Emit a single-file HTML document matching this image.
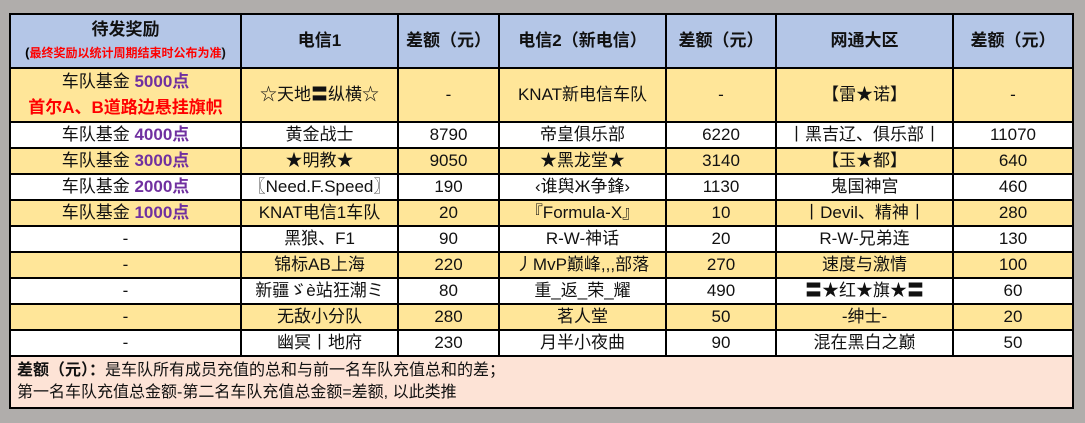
<!DOCTYPE html>
<html><head><meta charset="utf-8"><style>
body{margin:0;width:1085px;height:423px;background:#b0adab;overflow:hidden;font-family:"Liberation Sans","Noto Sans CJK SC",sans-serif}
table{position:absolute;left:9px;top:13px;border-collapse:collapse;table-layout:fixed;width:1063px;border:2px solid #000}
td{border:2px solid #000;text-align:center;vertical-align:middle;font-size:17px;padding:0;white-space:nowrap;overflow:hidden;color:#111;line-height:20px}
tr.h td{background:#b4c6e7;font-weight:bold;height:52px;font-size:17px}
tr.y td{background:#ffe699}
tr.w td{background:#fff}
tr.r td{height:24px}
.p{color:#7030a0;font-weight:bold}
.red{color:#ff0000;font-weight:bold}
tr.f td{background:#fde3d6;text-align:left;height:50px;font-size:16px;line-height:22px;padding-left:6px}
</style></head><body>
<table>
<colgroup><col style="width:231px"><col style="width:157px"><col style="width:101px"><col style="width:167px"><col style="width:110px"><col style="width:177px"><col style="width:120px"></colgroup>
<tr class="h"><td style="line-height:22px">待发奖励<br><span style="font-size:13px;color:#000">(</span><span style="font-size:12px;color:#ff0000">最终奖励以统计周期结束时公布为准</span><span style="font-size:13px">)</span></td><td>电信1</td><td>差额（元）</td><td>电信2（新电信）</td><td>差额（元）</td><td>网通大区</td><td>差额（元）</td></tr>
<tr class="y"><td style="height:51px;line-height:26px">车队基金 <span class="p">5000点</span><br><span class="red">首尔A、B道路边悬挂旗帜</span></td><td>☆天地〓纵横☆</td><td>-</td><td>KNAT新电信车队</td><td>-</td><td>【雷★诺】</td><td>-</td></tr>
<tr class="w r"><td>车队基金 <span class="p">4000点</span></td><td>黄金战士</td><td>8790</td><td>帝皇俱乐部</td><td>6220</td><td>丨黑吉辽、俱乐部丨</td><td>11070</td></tr>
<tr class="y r"><td>车队基金 <span class="p">3000点</span></td><td>★明教★</td><td>9050</td><td>★黑龙堂★</td><td>3140</td><td>【玉★都】</td><td>640</td></tr>
<tr class="w r"><td>车队基金 <span class="p">2000点</span></td><td>〖Need.F.Speed〗</td><td>190</td><td>‹谁舆Ж争鋒›</td><td>1130</td><td>鬼国神宫</td><td>460</td></tr>
<tr class="y r"><td>车队基金 <span class="p">1000点</span></td><td>KNAT电信1车队</td><td>20</td><td>『Formula-X』</td><td>10</td><td>丨Devil、精神丨</td><td>280</td></tr>
<tr class="w r"><td>-</td><td>黑狼、F1</td><td>90</td><td>R-W-神话</td><td>20</td><td>R-W-兄弟连</td><td>130</td></tr>
<tr class="y r"><td>-</td><td>锦标AB上海</td><td>220</td><td>丿MvP巅峰,,,部落</td><td>270</td><td>速度与激情</td><td>100</td></tr>
<tr class="w r"><td>-</td><td>新疆ゞè站狂潮ミ</td><td>80</td><td>重_返_荣_耀</td><td>490</td><td>〓★红★旗★〓</td><td>60</td></tr>
<tr class="y r"><td>-</td><td>无敌小分队</td><td>280</td><td>茗人堂</td><td>50</td><td>-绅士-</td><td>20</td></tr>
<tr class="w r"><td>-</td><td>幽冥丨地府</td><td>230</td><td>月半小夜曲</td><td>90</td><td>混在黑白之巅</td><td>50</td></tr>
<tr class="f"><td colspan="7"><b>差额（元）：</b>是车队所有成员充值的总和与前一名车队充值总和的差；<br>第一名车队充值总金额-第二名车队充值总金额=差额, 以此类推</td></tr>
</table>
</body></html>
